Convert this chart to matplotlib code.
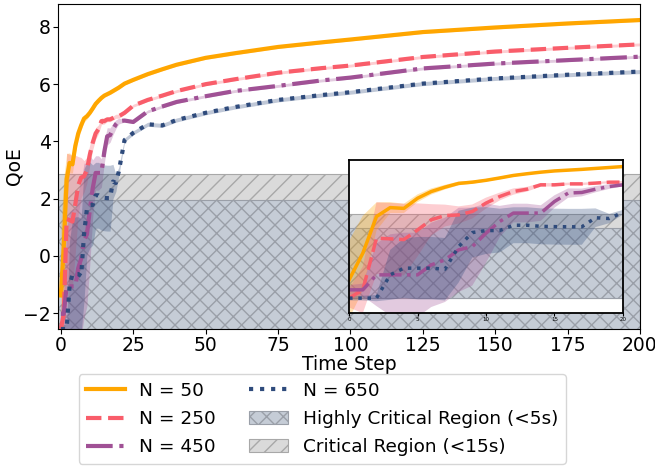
import matplotlib
matplotlib.use("Agg")
import matplotlib.pyplot as plt
import numpy as np

# time steps (dense at the start, sparser later)
steps = list(range(21)) + [22, 25, 30, 35, 40, 50, 60, 75, 90, 100, 125, 150, 175, 200]

qoe_50 = [-1.38, 0.33, 2.68, 3.25, 3.2, 3.85, 4.28, 4.56, 4.8, 4.88, 5.0,
          5.15, 5.31, 5.42, 5.52, 5.6, 5.65, 5.7, 5.76, 5.82, 5.88,
          6.02, 6.15, 6.35, 6.52, 6.68, 6.92, 7.08, 7.3, 7.46, 7.56, 7.82, 7.98, 8.12, 8.24]
qoe_250 = [-2.55, -2.02, 1.29, 1.25, 1.2, 1.82, 2.47, 2.74, 2.78, 3.0, 3.54,
           3.96, 4.28, 4.43, 4.71, 4.71, 4.77, 4.77, 4.82, 4.88, 4.88,
           5.0, 5.25, 5.45, 5.6, 5.76, 6.0, 6.17, 6.4, 6.56, 6.65, 6.95, 7.14, 7.27, 7.39]
qoe_450 = [-2.02, -2.02, -1.06, -1.06, -1.06, -1.06, -0.42, -0.1, 0.54, 0.75, 1.61,
           2.36, 2.9, 2.9, 2.9, 3.64, 4.18, 4.22, 4.43, 4.6, 4.71,
           4.73, 4.68, 5.05, 5.22, 5.38, 5.58, 5.76, 5.94, 6.13, 6.23, 6.55, 6.72, 6.84, 6.96]
qoe_650 = [-2.55, -2.55, -2.55, -1.06, -0.63, -0.63, -0.63, -0.7, 0.75, 1.65, 1.78,
           1.78, 2.12, 2.12, 2.05, 2.03, 2.02, 2.02, 2.6, 2.55, 2.95,
           4.05, 4.3, 4.6, 4.56, 4.75, 5.0, 5.2, 5.45, 5.62, 5.72, 6.02, 6.2, 6.33, 6.44]

late = [0.05] * 14
std_50 = [2.5, 2.4, 0.9, 0.35, 0.3, 0.25, 0.2, 0.15, 0.12, 0.1, 0.08,
          0.08, 0.08, 0.07, 0.07, 0.06, 0.06, 0.06, 0.06, 0.06, 0.06] + late
std_250 = [0.6, 1.5, 2.3, 2.3, 2.3, 1.7, 1.0, 0.7, 0.55, 0.45, 0.35,
           0.25, 0.2, 0.15, 0.12, 0.1, 0.08, 0.08, 0.07, 0.07, 0.07] + late
std_450 = [0.3, 0.4, 2.0, 2.6, 2.7, 2.7, 2.7, 2.7, 2.7, 2.5, 1.9,
           1.0, 0.6, 0.6, 0.5, 0.4, 0.3, 0.25, 0.2, 0.15, 0.1] + late
std_650 = [0.15, 0.15, 0.2, 1.6, 1.9, 2.0, 2.0, 2.0, 2.3, 1.6, 1.5,
           1.4, 1.15, 1.15, 1.15, 1.15, 1.15, 1.15, 0.6, 0.3, 0.15] + [0.07] * 14

labels = ["N = 50", "N = 250", "N = 450", "N = 650"]
colors = ["#ffa600", "#f95d6a", "#a05195", "#2f4b7c"]
styles = ["-", "--", "-.", ":"]
means = [qoe_50, qoe_250, qoe_450, qoe_650]
stds = [std_50, std_250, std_450, std_650]

critical_top = 2.85
highly_top = 1.95
region_bottom = -2.55
FS = 13.5


def draw(ax, lw):
    ax.axhspan(region_bottom, critical_top, facecolor="#dadada", edgecolor="#a8a8a8",
               hatch="//", linewidth=0.8, label="Critical Region (<15s)", zorder=0)
    ax.axhspan(region_bottom, highly_top, facecolor="#c5ccd6", edgecolor="#9a9fa8",
               hatch="xx", linewidth=0.8, label="Highly Critical Region (<5s)", zorder=0)
    t = np.array(steps)
    for m, s, c, ls, lab in zip(means, stds, colors, styles, labels):
        m = np.array(m)
        s = np.array(s)
        ax.fill_between(t, m - s, m + s, color=c, alpha=0.3, linewidth=0, zorder=1)
        ax.plot(t, m, ls, color=c, lw=lw, label=lab, zorder=2)


fig = plt.figure(figsize=(6.55, 4.72), dpi=100)
ax = fig.add_axes([0.0885, 0.303, 0.8885, 0.6885])
draw(ax, 3)
ax.set_xlim(-1, 200)
ax.set_ylim(-2.55, 8.8)
ax.set_xticks(range(0, 201, 25))
ax.set_yticks(range(-2, 9, 2))
ax.tick_params(labelsize=FS, pad=1.5)
ax.set_xlabel("Time Step", fontsize=FS, labelpad=0)
ax.set_ylabel("QoE", fontsize=FS)
ax.yaxis.set_label_coords(-0.06, 0.5)

handles, labs = ax.get_legend_handles_labels()
order = [labs.index(n) for n in labels + ["Highly Critical Region (<5s)", "Critical Region (<15s)"]]
ax.legend([handles[i] for i in order], [labs[i] for i in order], loc="upper center",
          bbox_to_anchor=(0.454, -0.14), ncol=2, fontsize=13.3, handlelength=2.1,
          handletextpad=0.8, columnspacing=1.8, borderaxespad=0, labelspacing=0.55)

ins = fig.add_axes([0.533, 0.337, 0.418, 0.324])
draw(ins, 2.5)
ins.set_xlim(0, 20)
ins.set_ylim(-3.5, 6.3)
ins.set_xticks(range(0, 21, 5))
ins.set_yticks([])
ins.tick_params(labelsize=4, length=2, pad=1)
for sp in ins.spines.values():
    sp.set_linewidth(1.3)

fig.savefig("out.png", dpi=100)
